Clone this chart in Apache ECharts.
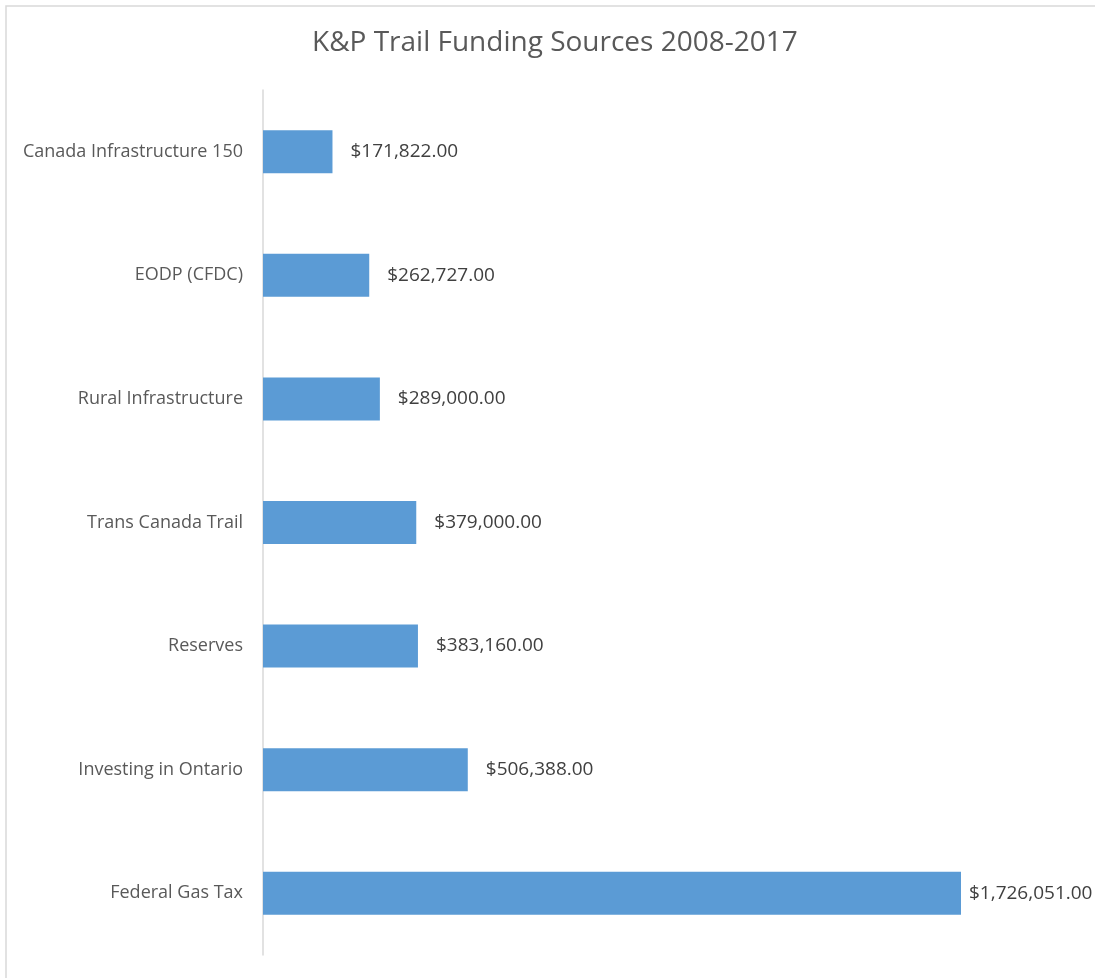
<!DOCTYPE html>
<html>
<head>
<meta charset="utf-8">
<script src="https://cdn.jsdelivr.net/npm/echarts@6/dist/echarts.min.js"></script>
<style>
html,body{margin:0;padding:0;background:#fff;}
#chart{width:1095px;height:978px;}
</style>
</head>
<body>
<div id="chart"></div>
<script>
var categories=['Canada Infrastructure 150','EODP (CFDC)','Rural Infrastructure','Trans Canada Trail','Reserves','Investing in Ontario','Federal Gas Tax'];
var funding=[171822,262727,289000,379000,383160,506388,1726051];

function money(v){
	var s=v.toFixed(2);
	var parts=s.split('.');
	parts[0]=parts[0].replace(/\B(?=(\d{3})+(?!\d))/g,',');
	return '$'+parts.join('.');
}

var chart=echarts.init(document.getElementById('chart'));
var seriesData=[];
for(var i=0;i<funding.length;i++){
	var item={value:funding[i]};
	if(i==funding.length-1){
		item.label={distance:8};
	}
	seriesData.push(item);
}

var option={
	animation:false,
	title:{
		text:'K&P Trail Funding Sources 2008-2017',
		left:307,
		top:24,
		textStyle:{color:'#595959',fontSize:28,fontWeight:'normal',fontFamily:'Open Sans'}
	},
	graphic:[{
		type:'rect',
		shape:{x:6,y:6,width:1200,height:1200},
		style:{fill:'none',stroke:'#d9d9d9',lineWidth:1.5},
		silent:true
	}],
	grid:{left:263,right:134,top:90,bottom:23},
	xAxis:{
		type:'value',
		min:0,
		max:1726051,
		show:false
	},
	yAxis:{
		type:'category',
		data:categories,
		inverse:true,
		axisLine:{show:true,lineStyle:{color:'#d9d9d9',width:1.5}},
		axisTick:{show:false},
		axisLabel:{color:'#595959',fontSize:18,fontFamily:'Open Sans',margin:20,padding:[4,0,0,0]}
	},
	series:[{
		type:'bar',
		data:seriesData,
		barWidth:43,
		itemStyle:{color:'#5b9bd5'},
		label:{
			show:true,
			position:'right',
			distance:18,
			color:'#404040',
			fontSize:19,
			fontFamily:'Open Sans',
			padding:[4,0,0,0],
			formatter:function(p){return money(p.value);}
		}
	}]
};
chart.setOption(option);
</script>
</body>
</html>
